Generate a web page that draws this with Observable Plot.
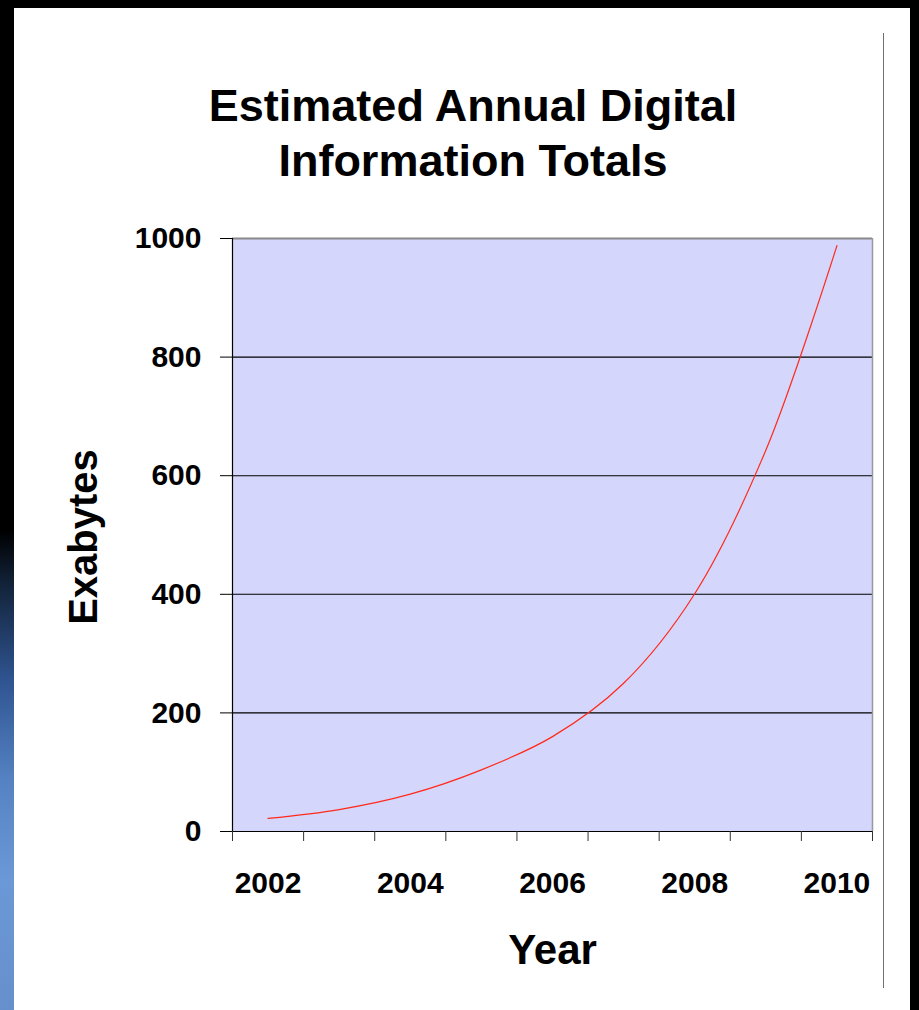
<!DOCTYPE html>
<html>
<head>
<meta charset="utf-8">
<script src="https://cdn.jsdelivr.net/npm/d3@7"></script>
<script src="https://cdn.jsdelivr.net/npm/@observablehq/plot@0.6"></script>
<style>
  html, body { margin: 0; padding: 0; background: #000; }
  #stage { position: relative; width: 919px; height: 1010px; background: #000; overflow: hidden;
           font-family: "Liberation Sans", Arial, Helvetica, sans-serif; }
  #strip { position: absolute; left: 0; top: 0; width: 14px; height: 1010px;
           background: linear-gradient(to bottom, #000 0px, #000 530px, #14263f 590px, #2f5490 680px, #5582c2 780px, #6b98d6 880px, #6690cc 1010px); }
  #panel { position: absolute; left: 14px; top: 8px; width: 896px; height: 1002px; background: #fff; }
  #vline { position: absolute; left: 883px; top: 33px; width: 1px; height: 955px; background: #707070; }
  #title { position: absolute; left: 173px; width: 600px; top: 78px; text-align: center;
           font-size: 45px; font-weight: bold; line-height: 55px; color: #000; }
  #chart { position: absolute; left: 0; top: 200px; }
</style>
</head>
<body>
<div id="stage">
  <div id="strip"></div>
  <div id="panel"></div>
  <div id="vline"></div>
  <div id="title">Estimated Annual Digital<br>Information Totals</div>
  <div id="chart"></div>
</div>
<script>
// Data
const years = [2002, 2003, 2004, 2005, 2006, 2007, 2008, 2009, 2010];
const exabytes = [22, 37, 63, 104, 160, 250, 401, 643, 988];
const xTickLabels = [2002, 2004, 2006, 2008, 2010];
const yTicks = [0, 200, 400, 600, 800, 1000];
const gridValues = [200, 400, 600, 800];

const data = years.map((year, i) => ({year, value: exabytes[i]}));
const xMin = years[0] - 0.5;
const xMax = years[years.length - 1] + 0.5;
const boundaries = years.map(y => y - 0.5).concat([xMax]);

const font = "'Liberation Sans', Arial, Helvetica, sans-serif";

const chart = Plot.plot({
  width: 900,
  height: 800,
  marginTop: 38,
  marginLeft: 232,
  marginRight: 28,
  marginBottom: 169,
  style: {background: "transparent", color: "#000", fontFamily: font, overflow: "visible"},
  x: {domain: [xMin, xMax]},
  y: {domain: [0, 1000]},
  marks: [
    Plot.frame({fill: "#D5D6FC", stroke: null}),
    Plot.ruleY(gridValues, {stroke: "#000", strokeWidth: 1.1}),
    Plot.ruleY([1000], {stroke: "#888", strokeWidth: 2}),
    Plot.ruleX([xMax], {stroke: "#999", strokeWidth: 1.5}),
    Plot.line(data, {x: "year", y: "value", stroke: "#ff2a1a", strokeWidth: 1.2, curve: "catmull-rom"}),
    Plot.ruleX([xMin], {stroke: "#000", strokeWidth: 1.2}),
    Plot.ruleY([0], {stroke: "#000", strokeWidth: 1.2}),
    Plot.axisY({ticks: yTicks, tickSize: 12, tickPadding: 19, tickFormat: "d",
                fontSize: 30, fontWeight: "bold", label: null, stroke: "#000"}),
    Plot.axisX({ticks: boundaries, tickSize: 10, tickFormat: () => "", label: null, stroke: "#333"}),
    Plot.axisX({ticks: xTickLabels, tickSize: 0, tickPadding: 40, tickFormat: "d",
                fontSize: 30, fontWeight: "bold", label: null}),
    Plot.text(["Year"], {frameAnchor: "bottom", text: d => d, dy: 119, lineAnchor: "middle",
                         textAnchor: "middle", fontSize: 42, fontWeight: "bold", fill: "#000"}),
    Plot.text(["Exabytes"], {frameAnchor: "left", text: d => d, dx: -148, dy: 2, rotate: -90,
                             lineAnchor: "middle", textAnchor: "middle", fontSize: 40,
                             fontWeight: "bold", fill: "#000"})
  ]
});
document.getElementById("chart").appendChild(chart);
</script>
</body>
</html>
